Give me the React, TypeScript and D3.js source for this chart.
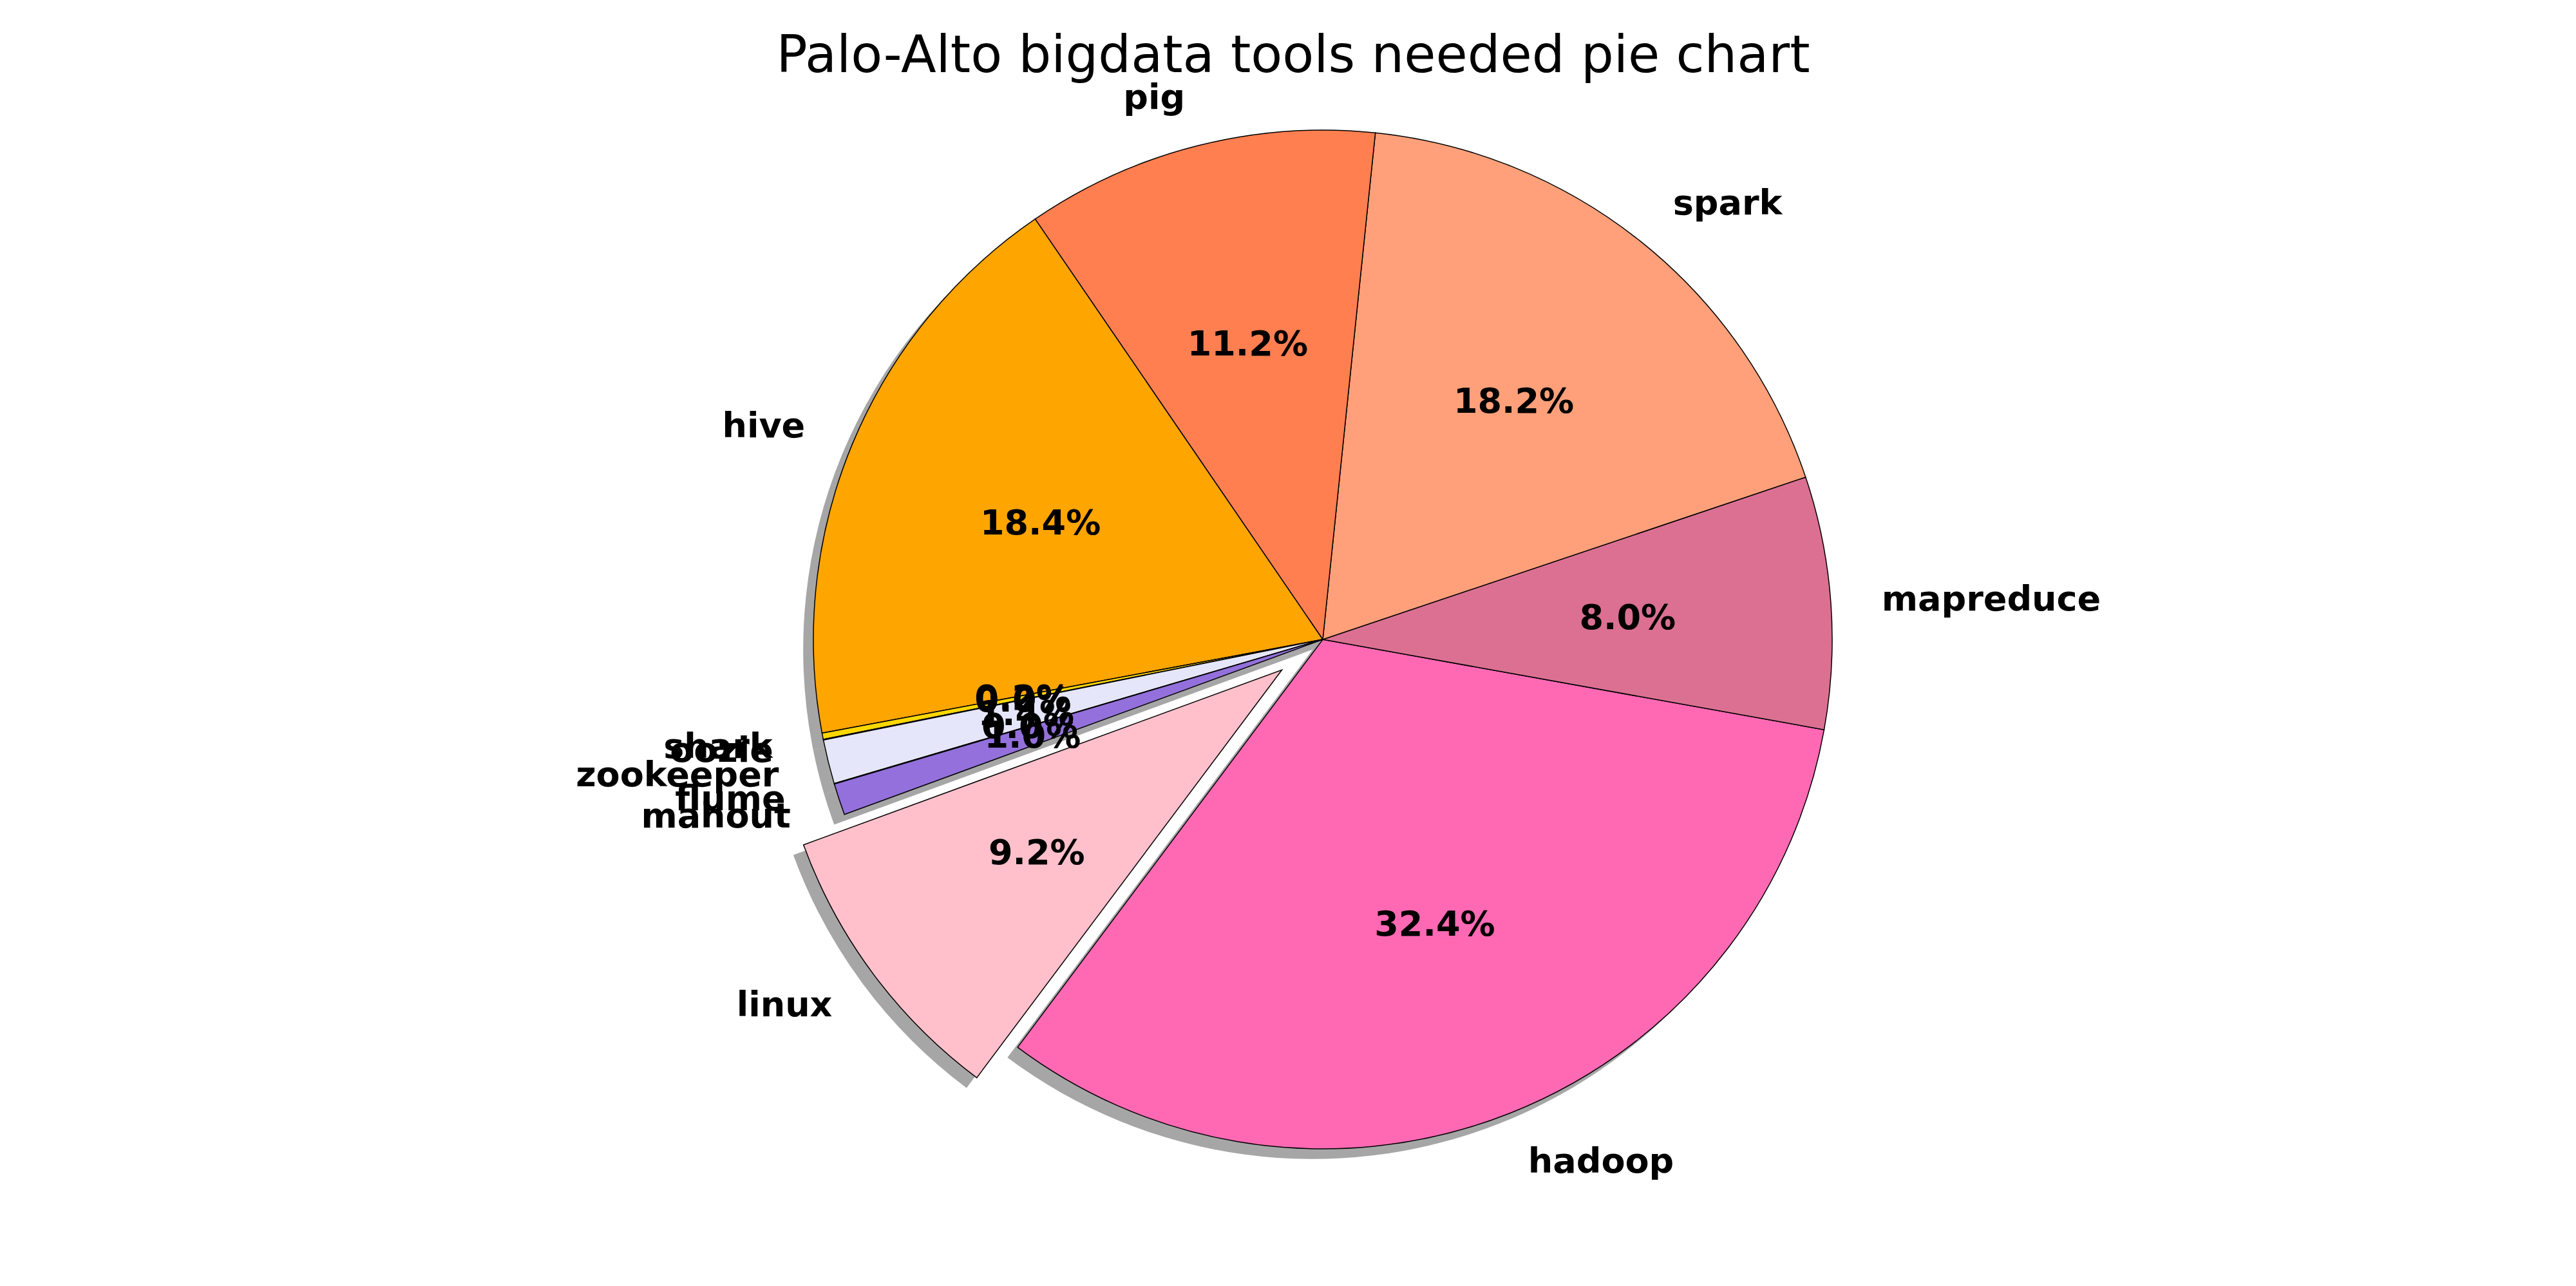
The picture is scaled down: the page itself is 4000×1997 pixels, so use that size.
import React from "react";
import * as d3 from "d3";

const labels = ["hadoop", "mapreduce", "spark", "pig", "hive", "shark", "oozie", "zookeeper", "flume", "mahout", "linux"];
const values = [32.4, 8.0, 18.2, 11.2, 18.4, 0.2, 0.02, 1.4, 0.02, 1.0, 9.2];
const colors = ["#ff69b4", "#db7093", "#ffa07a", "#ff7f50", "#ffa500", "#ffd700", "#d8bfd8", "#e6e6fa", "#dda0dd", "#9370db", "#ffc0cb"];
const explode = [0, 0, 0, 0, 0, 0, 0, 0, 0, 0, 0.1];
const startAngle = -126.8; // degrees, counterclockwise from 3 o'clock

const W = 4000;
const H = 1997;
const cx = 2046;
const cy = 985;
const R = 791;

export default function App() {
  const total = d3.sum(values);
  const angle = d3.scaleLinear().domain([0, total]).range([startAngle, startAngle + 360]);
  const toRad = (deg: number) => (deg * Math.PI) / 180;
  const arc = d3.arc<any>().innerRadius(0).outerRadius(R);

  let acc = 0;
  const slices = values.map((v, i) => {
    const t1 = angle(acc);
    acc += v;
    const t2 = angle(acc);
    const mid = toRad((t1 + t2) / 2);
    const ex = explode[i] * R;
    const dx = Math.cos(mid) * ex;
    const dy = -Math.sin(mid) * ex;
    const path = arc({ startAngle: toRad(90 - t2), endAngle: toRad(90 - t1) }) as string;
    return { i, t1, t2, mid, dx, dy, path, pct: (v / total) * 100 };
  });

  const shadowOff = 0.02 * R;

  return (
    <svg width={W} height={H} style={{ display: "block", fontFamily: "DejaVu Sans" }}>
      <rect width={W} height={H} fill="#fff" />
      <text x={W / 2} y={104} textAnchor="middle" fontSize={80}>
        Palo-Alto bigdata tools needed pie chart
      </text>
      <g transform={`translate(${cx},${cy})`}>
        {slices.map((s) => (
          <path
            key={"sh" + s.i}
            d={s.path}
            transform={`translate(${s.dx - shadowOff},${s.dy + shadowOff})`}
            fill="#000"
            opacity={0.35}
          />
        ))}
        {slices.map((s) => (
          <path
            key={"w" + s.i}
            d={s.path}
            transform={`translate(${s.dx},${s.dy})`}
            fill={colors[s.i]}
            stroke="#000"
            strokeWidth={1.5}
          />
        ))}
        {slices.map((s) => {
          const lx = s.dx + Math.cos(s.mid) * R * 1.1;
          const ly = s.dy - Math.sin(s.mid) * R * 1.1;
          const px = s.dx + Math.cos(s.mid) * R * 0.6;
          const py = s.dy - Math.sin(s.mid) * R * 0.6;
          return (
            <g key={"t" + s.i} fontWeight="bold" fontSize={54}>
              <text x={lx} y={ly} dy="0.35em" textAnchor={lx > 0 ? "start" : "end"}>
                {labels[s.i]}
              </text>
              <text x={px} y={py} dy="0.35em" textAnchor="middle">
                {s.pct.toFixed(1) + "%"}
              </text>
            </g>
          );
        })}
      </g>
    </svg>
  );
}
